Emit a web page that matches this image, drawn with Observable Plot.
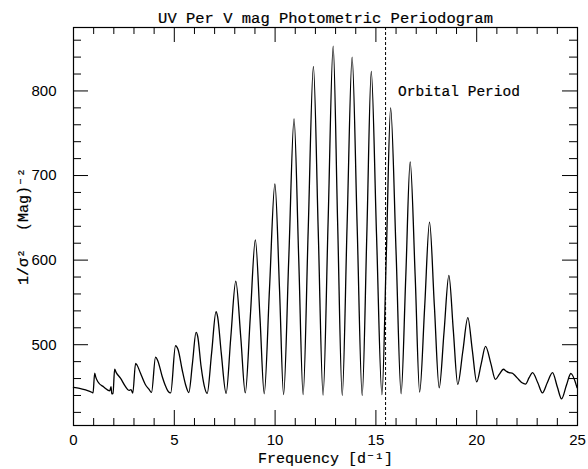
<!DOCTYPE html>
<html><head><meta charset="utf-8">
<script src="https://cdn.jsdelivr.net/npm/d3@7"></script>
<script src="https://cdn.jsdelivr.net/npm/@observablehq/plot@0.6"></script>
<style>body{margin:0;background:#fff} svg{display:block}</style>
</head><body><div id="chart"></div>
<script>
const titleText = "UV Per V mag Photometric Periodogram";
const xLabel = "Frequency [d\u207B\u00B9]";
const yLabel = "1/\u03C3\u00B2  (Mag)\u207B\u00B2";
const annotationText = "Orbital Period";

// Periodogram: frequency (d^-1) and 1/sigma^2 (Mag^-2)
const frequency = [
  0.00, 0.30, 0.60, 0.93, 0.97, 1.05, 1.10, 1.20, 1.50, 1.80, 1.86, 1.90, 1.96,
  2.04, 2.12, 2.33, 2.58, 2.75, 2.85, 2.94, 3.08, 3.15, 3.32, 3.57, 3.74, 3.87,
  4.07, 4.18, 4.40, 4.56, 4.70, 4.82, 5.06, 5.19, 5.39, 5.56, 5.72,
  5.90, 6.08, 6.16, 6.33, 6.48, 6.63, 6.85, 7.07, 7.15, 7.33, 7.57,
  7.80, 8.05, 8.30, 8.52, 8.77, 9.02, 9.25, 9.46, 9.72, 9.99, 10.22, 10.42,
  10.68, 10.94, 11.17, 11.39, 11.64, 11.90, 12.14, 12.38, 12.63, 12.88, 13.10, 13.33,
  13.57, 13.82, 14.07, 14.32, 14.55, 14.77, 15.03, 15.30, 15.52, 15.73, 16.00, 16.25,
  16.48, 16.70, 16.95, 17.17, 17.42, 17.66, 17.90, 18.14, 18.38, 18.62, 18.84, 19.06,
  19.31, 19.56, 19.78, 20.00, 20.22, 20.44, 20.70, 20.93, 21.12, 21.33, 21.45, 21.60,
  21.76, 21.92, 22.09, 22.25, 22.42, 22.60, 22.77, 23.03, 23.26, 23.50, 23.76, 24.00,
  24.21, 24.45, 24.67, 24.98
];
const power = [
  449.5, 448.5, 446.5, 443.5, 443.0, 466.5, 462.0, 456.5, 450.0, 445.5, 450.5, 442.0, 442.5,
  471.0, 467.0, 460.5, 450.5, 446.0, 447.0, 442.8, 478.0, 476.0, 466.5, 452.7, 447.5, 443.6,
  485.4, 481.0, 462.5, 451.5, 444.7, 443.0, 498.8, 494.0, 470.4, 452.7, 443.5,
  478.0, 514.5, 510.0, 474.0, 452.0, 442.5, 490.0, 539.0, 533.0, 490.0, 442.5,
  508.0, 575.0, 508.0, 443.0, 533.0, 624.0, 532.0, 442.0, 565.0, 690.0, 565.0, 441.0,
  603.0, 767.0, 603.0, 441.0, 634.0, 829.0, 634.0, 440.5, 646.0, 853.0, 646.0, 440.0,
  640.0, 840.0, 640.0, 440.0, 631.0, 823.0, 631.0, 441.0, 610.0, 780.0, 610.0, 442.0,
  579.0, 716.0, 580.0, 444.0, 545.0, 645.0, 546.0, 449.0, 515.0, 582.0, 517.0, 453.0,
  492.0, 532.0, 494.0, 456.0, 477.0, 498.0, 478.0, 459.0, 465.0, 471.0, 469.0, 467.0,
  466.5, 463.0, 458.6, 455.0, 453.5, 461.0, 467.0, 455.0, 443.0, 455.0, 467.0, 450.0,
  436.0, 452.0, 466.0, 449.0
];
const orbitalFrequency = [15.48];
const annotationX = [16.1];
const annotationY = [799];

const xDomain = [0, 25];
const yDomain = [404.5, 875];
const xMajorTicks = [0, 5, 10, 15, 20, 25];
const yMajorTicks = [500, 600, 700, 800];

const xMinorTicks = d3.range(0, 26, 1).filter(v => v % 5 !== 0);
const yMinorTicks = d3.range(420, 875, 20).filter(v => v % 100 !== 0);

const data = frequency.map((f, i) => ({f, p: power[i]}));

const W = 588, H = 469;
const mL = 73, mR = 11, mT = 27, mB = 44;
const plotH = H - mT - mB, plotW = W - mL - mR;
const mono = "'Liberation Mono', 'DejaVu Sans Mono', monospace";

const chart = Plot.plot({
  width: W, height: H,
  marginLeft: mL, marginRight: mR, marginTop: mT, marginBottom: mB,
  style: {fontFamily: "'Liberation Sans', Arial, sans-serif", fontSize: "15px", color: "black", background: "white"},
  x: {domain: xDomain, ticks: xMajorTicks, tickSize: 0, tickPadding: 9, label: null, tickFormat: d3.format("d")},
  y: {domain: yDomain, ticks: yMajorTicks, tickSize: 0, tickPadding: 17, label: null, tickFormat: d3.format("d")},
  marks: [
    // inward ticks, bottom & top
    Plot.ruleX(xMajorTicks, {insetTop: plotH - 15, stroke: "black"}),
    Plot.ruleX(xMinorTicks, {insetTop: plotH - 7, stroke: "black"}),
    Plot.ruleX(xMajorTicks, {insetBottom: plotH - 15, stroke: "black"}),
    Plot.ruleX(xMinorTicks, {insetBottom: plotH - 7, stroke: "black"}),
    // inward ticks, left & right
    Plot.ruleY(yMajorTicks, {insetRight: plotW - 15, stroke: "black"}),
    Plot.ruleY(yMinorTicks, {insetRight: plotW - 8, stroke: "black"}),
    Plot.ruleY(yMajorTicks, {insetLeft: plotW - 15, stroke: "black"}),
    Plot.ruleY(yMinorTicks, {insetLeft: plotW - 8, stroke: "black"}),
    Plot.ruleX(orbitalFrequency, {stroke: "black", strokeWidth: 1, strokeDasharray: "3,2"}),
    Plot.line(data, {x: "f", y: "p", stroke: "black", strokeWidth: 1.3, curve: "monotone-x"}),
    Plot.frame({stroke: "black", strokeWidth: 1.2}),
    Plot.text([annotationText], {x: annotationX, y: annotationY, text: d => d, textAnchor: "start",
      fontFamily: mono, fontSize: 14.5, fill: "black", stroke: "black", strokeWidth: 0.2}),
    Plot.text([titleText], {frameAnchor: "top", dy: -16, text: d => d, fontFamily: mono, fontSize: 15.5,
      fill: "black", stroke: "black", strokeWidth: 0.2}),
    Plot.text([xLabel], {frameAnchor: "bottom", dy: 37, text: d => d, fontFamily: mono, fontSize: 15,
      fill: "black", stroke: "black", strokeWidth: 0.2}),
    Plot.text([yLabel], {frameAnchor: "left", dx: -50, rotate: -90, textAnchor: "middle", text: d => d,
      fontFamily: mono, fontSize: 15, fill: "black", stroke: "black", strokeWidth: 0.2})
  ]
});
document.getElementById("chart").appendChild(chart);
</script>
</body></html>
